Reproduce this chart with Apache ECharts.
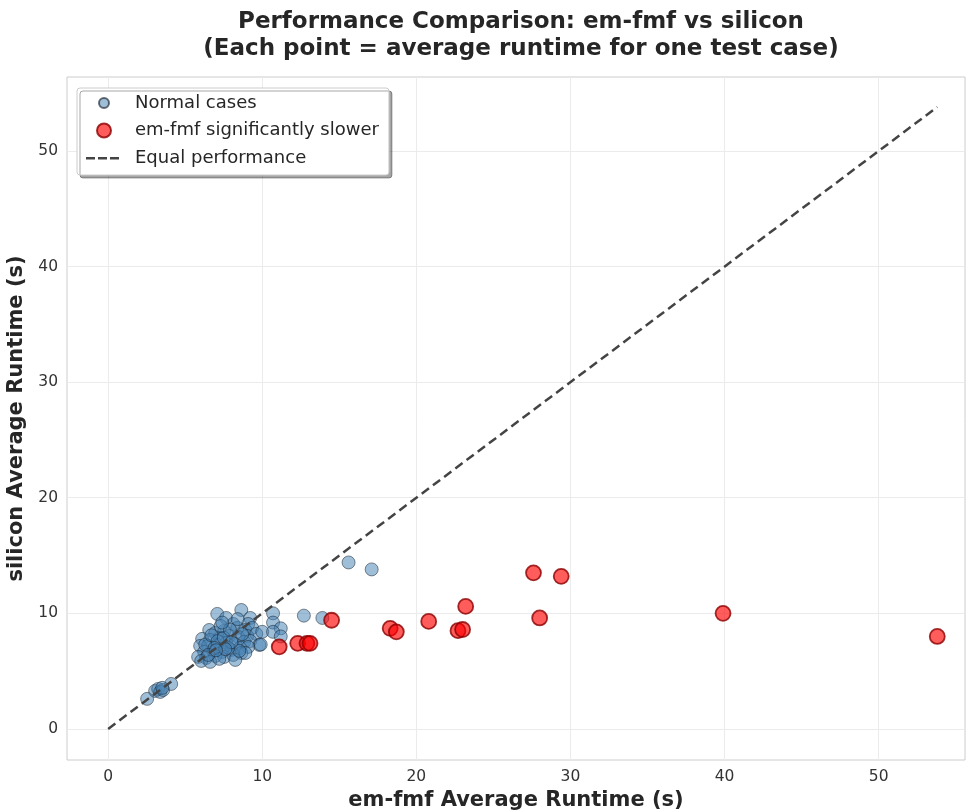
<!DOCTYPE html>
<html>
<head>
<meta charset="utf-8">
<script src="https://cdn.jsdelivr.net/npm/echarts@6/dist/echarts.min.js"></script>
<style>
  html, body { margin: 0; padding: 0; background: #fff; }
  #chart { width: 966px; height: 811px; }
</style>
</head>
<body>
<div id="chart"></div>
<script>
// runtimes in seconds: [em-fmf, silicon]
const normalCases = [
    [7.08, 9.95], [7.66, 9.60], [8.64, 10.29], [9.22, 9.60], [8.12, 9.08], [9.09, 9.08],
    [6.56, 8.56], [6.95, 8.30], [7.53, 8.48], [8.38, 8.74], [8.90, 8.56], [9.35, 8.74],
    [6.10, 7.79], [6.62, 7.70], [7.27, 7.87], [7.86, 8.04], [8.44, 7.96], [9.03, 8.04],
    [9.61, 8.22], [5.97, 7.18], [6.49, 7.18], [7.08, 7.27], [7.66, 7.44], [8.25, 7.35],
    [8.83, 7.53], [9.22, 7.61], [9.81, 7.27], [6.23, 6.66], [6.82, 6.75], [7.40, 6.66],
    [7.99, 6.83], [8.57, 7.01], [9.09, 7.09], [5.84, 6.23], [6.36, 6.14], [6.95, 6.31],
    [7.53, 6.23], [8.12, 6.40], [8.64, 6.57], [6.04, 5.88], [6.62, 5.80], [7.21, 6.06],
    [8.25, 5.97], [8.90, 6.57], [8.51, 6.75], [7.79, 7.01], [6.30, 7.30], [6.70, 8.10],
    [7.10, 7.60], [7.50, 7.90], [7.30, 8.90], [7.90, 8.60], [8.00, 7.50], [6.90, 7.00],
    [7.60, 6.90], [8.70, 8.20], [6.50, 6.40], [7.00, 6.80], [8.40, 9.50], [7.40, 9.20],
    [10.0, 8.40], [9.9, 7.30], [10.7, 10.0], [10.7, 9.2], [11.2, 8.7], [10.7, 8.4],
    [11.2, 8.0], [12.7, 9.8], [13.9, 9.6], [15.6, 14.4], [17.1, 13.8],
    [2.53, 2.60], [3.05, 3.29], [3.25, 3.46], [3.38, 3.20], [3.57, 3.37], [4.09, 3.89],
    [3.51, 3.55]
];
const slowerCases = [
    [11.1, 7.1], [12.3, 7.4], [12.9, 7.4], [13.1, 7.4], [14.5, 9.4], [18.3, 8.7],
    [18.7, 8.4], [20.8, 9.3], [22.7, 8.5], [23.0, 8.6], [23.2, 10.6], [27.6, 13.5],
    [28.0, 9.6], [29.4, 13.2], [39.9, 10.0], [53.8, 8.0]
];
const equalLine = [[0, 0], [53.8, 53.8]];
const tickValues = [0, 10, 20, 30, 40, 50];

const font = 'DejaVu Sans';
const chart = echarts.init(document.getElementById('chart'));

// legend icons in a 46x16 box; zero-length corner lines only fix the box size
const box = 'path://M0,0L0,0M46,16L46,16';
const dashIcon = box + 'M2,7h9v2.4h-9zM14,7h9v2.4h-9zM26,7h9v2.4h-9z';
const smallDot = box + 'M15,8a5,5 0 1,0 10,0a5,5 0 1,0 -10,0z';
const bigDot = box + 'M13,8a7,7 0 1,0 14,0a7,7 0 1,0 -14,0z';

const axisCommon = {
    type: 'value',
    axisLine: { show: false },
    axisTick: { show: false, customValues: tickValues },
    axisLabel: { customValues: tickValues, color: '#333', fontSize: 15.5, fontFamily: font, margin: 9 },
    splitLine: { show: true, lineStyle: { color: '#ebebeb', width: 1 } },
    nameLocation: 'middle',
    nameTextStyle: { fontSize: 21, fontWeight: 'bold', color: '#262626', fontFamily: font }
};

chart.setOption({
    animation: false,
    title: {
        text: 'Performance Comparison: em-fmf vs silicon\n(Each point = average runtime for one test case)',
        left: 516,
        top: 4,
        textAlign: 'center',
        textStyle: { fontSize: 23, fontWeight: 'bold', color: '#262626', fontFamily: font, lineHeight: 27 }
    },
    legend: {
        left: 77,
        top: 88,
        orient: 'vertical',
        padding: [6, 10, 8, 6],
        itemGap: 9.5,
        itemWidth: 46,
        itemHeight: 16,
        backgroundColor: '#fff',
        borderColor: '#ccc',
        borderWidth: 1,
        borderRadius: 3,
        shadowBlur: 0,
        shadowOffsetX: 3,
        shadowOffsetY: 3,
        shadowColor: 'rgba(0,0,0,0.35)',
        textStyle: { fontSize: 18, color: '#262626', fontFamily: font },
        data: [
            { name: 'Normal cases', icon: smallDot },
            { name: 'em-fmf significantly slower', icon: bigDot },
            { name: 'Equal performance', icon: dashIcon }
        ]
    },
    grid: {
        left: 67, right: 1, top: 77, bottom: 51,
        outerBoundsMode: 'none',
        show: true, borderColor: '#cccccc', borderWidth: 1, backgroundColor: '#fff'
    },
    xAxis: Object.assign({}, axisCommon, {
        min: -2.67, max: 55.6,
        name: 'em-fmf Average Runtime (s)',
        nameGap: 30
    }),
    yAxis: Object.assign({}, axisCommon, {
        min: -2.69, max: 56.4,
        name: 'silicon Average Runtime (s)',
        nameGap: 32
    }),
    series: [
        {
            name: 'Normal cases',
            type: 'scatter',
            data: normalCases,
            symbolSize: 13,
            itemStyle: { color: 'rgba(70,130,180,0.65)', borderColor: 'rgba(20,30,40,0.8)', borderWidth: 0.8 }
        },
        {
            name: 'em-fmf significantly slower',
            type: 'scatter',
            data: slowerCases,
            symbolSize: 15,
            z: 3,
            itemStyle: { color: 'rgba(255,0,0,0.8)', borderColor: '#8b0000', borderWidth: 1.8 }
        },
        {
            name: 'Equal performance',
            type: 'line',
            data: equalLine,
            symbol: 'none',
            z: 4,
            lineStyle: { color: '#444', width: 2.5, type: [9, 5] },
            itemStyle: { color: '#444' }
        }
    ]
});
</script>
</body>
</html>
